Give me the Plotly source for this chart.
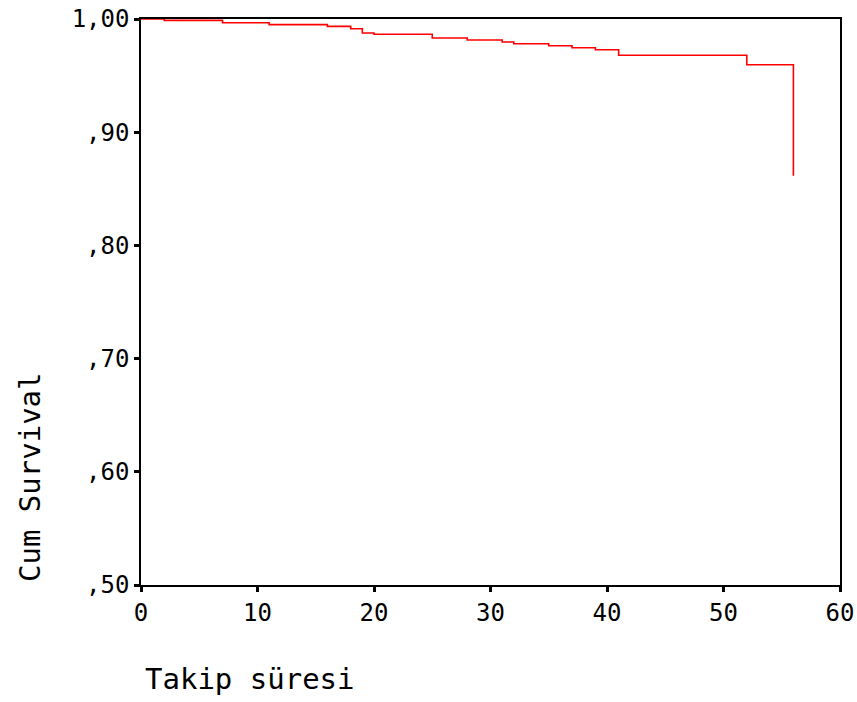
import plotly.graph_objects as go

# Kaplan-Meier step data (time, cumulative survival)
times = [0, 2, 7, 11, 16, 18, 19, 20, 25, 28, 31, 32, 35, 37, 39, 41, 52, 56, 56]
survival = [1.000, 0.9988, 0.9967, 0.9950, 0.9935, 0.9914, 0.9876, 0.9865,
            0.9832, 0.9814, 0.9797, 0.9782, 0.9764, 0.9746, 0.9729, 0.9680,
            0.9596, 0.9596, 0.8616]

x_ticks = [0, 10, 20, 30, 40, 50, 60]
y_ticks = [0.5, 0.6, 0.7, 0.8, 0.9, 1.0]
y_ticklabels = [",50", ",60", ",70", ",80", ",90", "1,00"]

font_family = "DejaVu Sans Mono"

fig = go.Figure()
fig.add_trace(go.Scatter(
    x=times, y=survival, mode="lines",
    line=dict(color="#ff0000", width=1.6, shape="hv"),
    showlegend=False, hoverinfo="x+y",
))

fig.update_layout(
    width=857, height=702,
    margin=dict(l=141, r=17, t=19, b=117),
    paper_bgcolor="white", plot_bgcolor="white",
    font=dict(family=font_family, size=24, color="black"),
    xaxis=dict(
        range=[0, 60], tickvals=x_ticks, ticktext=[str(v) for v in x_ticks],
        showgrid=False, zeroline=False, showline=True, linecolor="black",
        linewidth=1.5, mirror=True, ticks="outside", ticklen=5, tickwidth=3,
        tickcolor="black", tickfont=dict(family=font_family, size=24),
        automargin=False,
    ),
    yaxis=dict(
        range=[0.5, 1.0], tickvals=y_ticks, ticktext=y_ticklabels,
        showgrid=False, zeroline=False, showline=True, linecolor="black",
        linewidth=1.5, mirror=True, ticks="outside", ticklen=5, tickwidth=3,
        tickcolor="black", tickfont=dict(family=font_family, size=24),
        automargin=False,
    ),
    annotations=[
        dict(text="Takip süresi", xref="paper", yref="paper",
             x=(250 - 141) / 699, y=-(679 - 585) / 566, xanchor="center", yanchor="middle",
             showarrow=False, font=dict(family=font_family, size=29)),
        dict(text="Cum Survival", xref="paper", yref="paper",
             x=-(141 - 30) / 699, y=(585 - 477) / 566, xanchor="center", yanchor="middle",
             textangle=-90, showarrow=False, font=dict(family=font_family, size=29)),
    ],
)

fig.write_html(
    "out.html",
    config={"displayModeBar": False},
    post_script="document.body.style.margin='0';document.body.style.overflow='hidden';",
)
